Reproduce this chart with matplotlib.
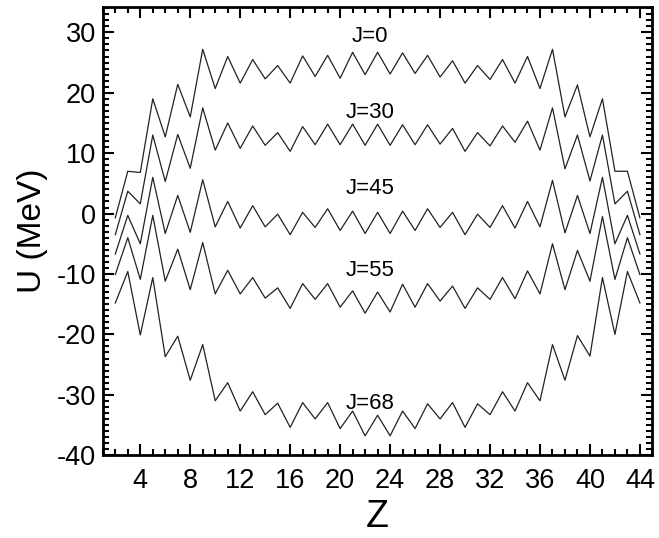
import matplotlib.pyplot as plt
from matplotlib.ticker import MultipleLocator

plt.rcParams['font.family'] = ['Liberation Sans', 'DejaVu Sans']
plt.rcParams['axes.unicode_minus'] = False

Z = list(range(2, 45))

U_J0 = [-0.7, 7.0, 6.8, 19.0, 12.7, 21.4, 16.0, 27.2, 20.7, 26.0, 21.6, 25.5, 22.3, 24.5,
        21.6, 26.1, 22.7, 26.2, 22.4, 26.7, 23.0, 26.7, 23.1, 26.6, 23.2, 26.2, 22.6, 25.3,
        21.6, 24.5, 22.2, 25.5, 21.6, 26.0, 20.7, 27.2, 16.0, 21.3, 12.7, 19.0, 7.0, 7.0, -0.7]
U_J30 = [-3.5, 3.7, 1.6, 13.0, 5.3, 13.1, 7.5, 17.5, 10.5, 15.0, 10.8, 14.5, 11.3, 13.4,
         10.3, 14.4, 11.4, 14.8, 11.4, 14.8, 11.3, 14.8, 11.3, 14.7, 11.4, 14.7, 11.5, 14.1,
         10.3, 13.4, 11.2, 14.5, 11.8, 15.3, 10.5, 17.5, 7.4, 13.0, 5.4, 13.0, 1.6, 3.7, -3.5]
U_J45 = [-6.7, -0.3, -5.0, 6.0, -3.3, 3.0, -3.1, 5.6, -2.2, 2.0, -2.4, 1.3, -2.2, -0.1,
         -3.5, 0.2, -2.3, 0.8, -2.8, 0.4, -3.3, 0.2, -3.3, 0.4, -2.8, 0.8, -2.3, 0.2,
         -3.5, -0.1, -2.3, 1.3, -2.4, 2.0, -2.2, 5.5, -3.2, 3.0, -3.3, 6.0, -5.0, -0.3, -6.7]
U_J55 = [-10.1, -4.0, -10.9, -0.3, -11.2, -5.9, -12.6, -4.8, -13.3, -9.4, -13.3, -10.6, -14.0, -12.3,
         -15.7, -11.6, -14.2, -11.6, -15.5, -12.8, -16.5, -13.0, -16.3, -11.7, -15.5, -11.6, -14.5, -12.0,
         -15.7, -12.3, -14.2, -10.6, -14.1, -9.5, -13.3, -5.0, -12.6, -6.1, -11.2, -0.5, -10.9, -4.0, -10.1]
U_J68 = [-14.8, -9.6, -20.1, -10.6, -23.7, -20.3, -27.6, -21.7, -31.0, -28.0, -32.7, -29.5, -33.3, -31.4,
         -35.4, -31.3, -34.0, -31.3, -35.6, -32.7, -36.8, -33.4, -36.8, -32.7, -35.6, -31.5, -34.0, -31.3,
         -35.4, -31.5, -33.3, -29.5, -32.7, -28.0, -31.0, -21.7, -27.6, -20.2, -23.6, -10.6, -20.0, -9.6, -14.8]

curves = [("J=0", U_J0, 29.3), ("J=30", U_J30, 16.8), ("J=45", U_J45, 4.2),
          ("J=55", U_J55, -9.5), ("J=68", U_J68, -31.5)]

fig = plt.figure(figsize=(6.59, 5.38), dpi=100)
ax = fig.add_axes([0.156, 0.154, 0.834, 0.833])

for name, u, ylab in curves:
    ax.plot(Z, u, color='#222222', linewidth=0.9)
    ax.text(22.4, ylab, name, fontsize=16, ha='center', va='center')

ax.set_xlim(1, 45)
ax.set_ylim(-40, 34.2)
ax.xaxis.set_minor_locator(MultipleLocator(1))
ax.yaxis.set_major_locator(MultipleLocator(10))
ax.yaxis.set_minor_locator(MultipleLocator(1))
ax.set_xticks(range(4, 45, 4))
ax.tick_params(which='both', direction='in', top=True, right=True, width=1.5)
ax.tick_params(which='major', length=8, labelsize=19.5)
ax.tick_params(axis='x', which='major', pad=9)
ax.tick_params(axis='y', which='major', pad=5)
ax.tick_params(which='minor', length=4)
for s in ax.spines.values():
    s.set_linewidth(2)

ax.set_xlabel('Z', fontsize=27, labelpad=4)
ax.set_ylabel('U (MeV)', fontsize=24, labelpad=6)

plt.savefig('out.png', dpi=100)
